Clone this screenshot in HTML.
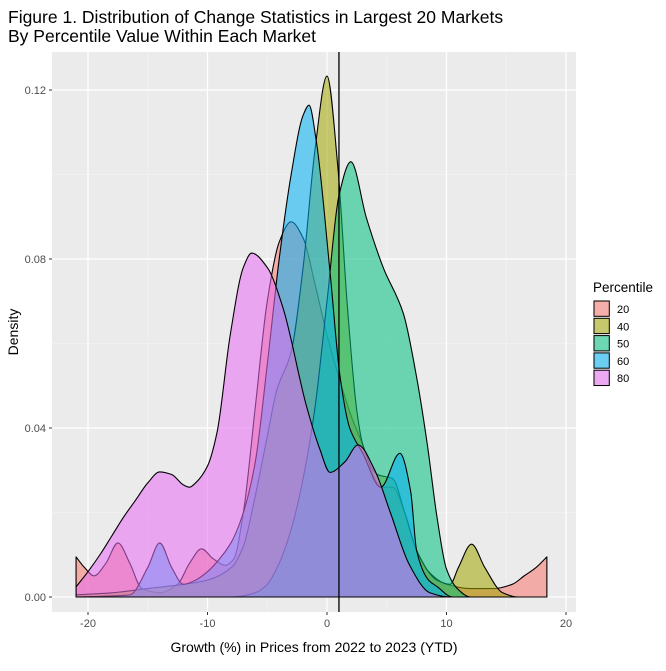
<!DOCTYPE html>
<html><head><meta charset="utf-8"><style>
body{margin:0;background:#fff;}
svg{font-family:"Liberation Sans",Arial,sans-serif;}
</style></head><body>
<svg id="chart" width="666" height="666" viewBox="0 0 666 666">
<text x="8" y="23" font-size="17.5" fill="#000">Figure 1. Distribution of Change Statistics in Largest 20 Markets</text>
<text x="8" y="42" font-size="17.5" fill="#000">By Percentile Value Within Each Market</text>
<rect x="52" y="52" width="524" height="560" fill="#EBEBEB"/>
<g id="grid"></g>
<g id="areas"></g>
<line id="vline" stroke="#000" stroke-width="1.3"/>
<g id="axes" font-size="11" fill="#4D4D4D"></g>
<text x="314" y="652" font-size="14" text-anchor="middle" fill="#000">Growth (%) in Prices from 2022 to 2023 (YTD)</text>
<text x="18" y="332" font-size="14" text-anchor="middle" fill="#000" transform="rotate(-90 18 332)">Density</text>
<g id="legend">
<text x="593" y="292" font-size="13.5" fill="#000">Percentile</text>
</g>
</svg>
<script>
const seriesNames = ["20","40","50","60","80"];
const seriesColors = ["#F8766D","#A3A500","#00BF7D","#00B0F6","#E76BF3"];
const xTicks = [-20,-10,0,10,20];
const yTicks = [0,0.04,0.08,0.12];
const yTickLabels = ["0.00","0.04","0.08","0.12"];
const refLine = 1;
const x20 = [-21,-20.3,-19.5,-18.5,-17.5,-16.5,-15.5,-14,-12.5,-11.5,-10.5,-9.5,-8.5,-7.8,-7,-6,-5,-4,-3,-2,-1,0,1,2,3,4,4.5,5.5,6.5,7.5,8.5,10,12,14,15.5,16.5,17.5,18.4];
const y20 = [0.0095,0.007,0.005,0.008,0.0128,0.008,0.002,0.001,0.003,0.008,0.0114,0.009,0.0075,0.009,0.02,0.045,0.07,0.084,0.0888,0.085,0.074,0.062,0.052,0.043,0.036,0.028,0.026,0.026,0.02,0.011,0.006,0.003,0.002,0.002,0.003,0.005,0.007,0.0095];
const x40 = [-21,-18,-15,-12,-10,-8,-7,-6,-5,-4.2,-3,-2,-1,0,0.9,1.7,2.5,3,4.2,5.5,6.5,7.5,9.2,10.3,11,12.1,13.2,14.7,16,18.4];
const y40 = [0.0005,0.001,0.002,0.003,0.004,0.007,0.012,0.024,0.038,0.049,0.058,0.078,0.106,0.1233,0.102,0.069,0.044,0.036,0.029,0.028,0.02,0.011,0.004,0.003,0.007,0.0125,0.007,0.001,0,0];
const x50 = [-21,-8,-6,-5,-4,-3,-2,-1,0,1,2,3.3,4.7,6.4,7.5,8.4,9.2,10,10.9,12,18.4];
const y50 = [0,0,0.001,0.003,0.008,0.016,0.028,0.045,0.07,0.095,0.103,0.0897,0.078,0.067,0.052,0.036,0.019,0.0066,0.002,0,0];
const x60 = [-21,-16.5,-15,-14,-13,-12,-11,-10,-9,-8,-7,-6,-5,-4,-3,-2,-1.5,-0.9,0.25,1.1,1.9,3,4.5,6.1,7,7.5,8.5,9.2,10.5,18.4];
const y60 = [0,0.0005,0.007,0.0128,0.007,0.003,0.004,0.006,0.009,0.013,0.02,0.032,0.055,0.08,0.1,0.114,0.1164,0.108,0.077,0.052,0.04,0.034,0.026,0.034,0.025,0.011,0.004,0.0025,0,0];
const x80 = [-21,-20,-19,-18,-17,-16,-15,-14,-13,-12,-11.5,-11,-10,-9.2,-8.1,-7,-6.3,-5,-3.7,-1.7,-0.6,0.25,1.5,2.6,4,5.3,6.9,8.6,10.3,12,18.4];
const y80 = [0.0024,0.006,0.010,0.0145,0.019,0.023,0.027,0.0296,0.029,0.0265,0.026,0.027,0.031,0.039,0.062,0.078,0.0814,0.078,0.0686,0.045,0.035,0.0295,0.032,0.036,0.03,0.02,0.0076,0.001,0,0,0];
const allX = [x20,x40,x50,x60,x80];
const allY = [y20,y40,y50,y60,y80];

const X = v => 327 + 11.95 * v;
const Y = d => 597 - d * 4225;
const NS = "http://www.w3.org/2000/svg";
function mk(tag, attrs, parent){ const e=document.createElementNS(NS,tag); for(const k in attrs) e.setAttribute(k,attrs[k]); parent.appendChild(e); return e; }

const grid = document.getElementById('grid');
[-15,-5,5,15].forEach(v=>{ const l=mk('line',{x1:X(v),x2:X(v),y1:52,y2:612,stroke:'#F5F5F5','stroke-width':0.6},grid);

 });
[0.02,0.06,0.10].forEach(v=>{ const l=mk('line',{x1:52,x2:576,y1:Y(v),y2:Y(v),stroke:'#F5F5F5','stroke-width':0.6},grid);

 });
xTicks.forEach(v=>{ const l=mk('line',{x1:X(v),x2:X(v),y1:52,y2:612,stroke:'#fff','stroke-width':1.2},grid);

 });
yTicks.forEach(v=>{ const l=mk('line',{x1:52,x2:576,y1:Y(v),y2:Y(v),stroke:'#fff','stroke-width':1.2},grid);

 });

// monotone cubic Hermite (Fritsch-Carlson) in data space
function smoothPath(xs, ys){
  const n = xs.length;
  const dlt = [], m = new Array(n);
  for(let i=0;i<n-1;i++) dlt.push((ys[i+1]-ys[i])/(xs[i+1]-xs[i]));
  m[0]=dlt[0]; m[n-1]=dlt[n-2];
  for(let i=1;i<n-1;i++){
    if(dlt[i-1]*dlt[i]<=0) m[i]=0;
    else { const h0=xs[i]-xs[i-1], h1=xs[i+1]-xs[i];
      const w1=2*h1+h0, w2=h1+2*h0;
      m[i]=(w1+w2)/(w1/dlt[i-1]+w2/dlt[i]); }
  }
  let d = `M${X(xs[0])},${Y(0)} L${X(xs[0])},${Y(ys[0])}`;
  for(let i=0;i<n-1;i++){
    const h=xs[i+1]-xs[i];
    const c1x=xs[i]+h/3, c1y=ys[i]+m[i]*h/3;
    const c2x=xs[i+1]-h/3, c2y=ys[i+1]-m[i+1]*h/3;
    d += ` C${X(c1x)},${Y(Math.max(0,c1y))} ${X(c2x)},${Y(Math.max(0,c2y))} ${X(xs[i+1])},${Y(ys[i+1])}`;
  }
  d += ` L${X(xs[n-1])},${Y(0)} Z`;
  return d;
}
const areas = document.getElementById('areas');
seriesNames.forEach((n,i)=>{
  const p = mk('path',{d:smoothPath(allX[i],allY[i]),fill:seriesColors[i],'fill-opacity':0.55,stroke:'#000','stroke-width':1.1,'stroke-linejoin':'round'},areas);
  
  
});
const vl = document.getElementById('vline');
vl.setAttribute('x1',X(refLine)); vl.setAttribute('x2',X(refLine));
vl.setAttribute('y1',52); vl.setAttribute('y2',612);

const axes = document.getElementById('axes');
xTicks.forEach(v=>{
  const t=mk('line',{x1:X(v),x2:X(v),y1:612,y2:615,stroke:'#333','stroke-width':1},axes);
  
  
  const l=mk('text',{x:X(v),y:627,'text-anchor':'middle'},axes); l.textContent=v;
  
  
});
yTicks.forEach((v,i)=>{
  const t=mk('line',{x1:49,x2:52,y1:Y(v),y2:Y(v),stroke:'#333','stroke-width':1},axes);
  
  
  const l=mk('text',{x:46,y:Y(v)+4,'text-anchor':'end'},axes); l.textContent=yTickLabels[i];
  
  
});
const legend = document.getElementById('legend');
seriesNames.forEach((n,i)=>{
  const y0 = 300 + i*17.3;
  const bg=mk('rect',{x:593,y:y0,width:17.3,height:17.3,fill:'#F2F2F2'},legend);
  
  
  const r=mk('rect',{x:594,y:y0+1,width:15.3,height:15.3,fill:seriesColors[i],'fill-opacity':0.55,stroke:'#000','stroke-width':1},legend);
  
  
  const t=mk('text',{x:617,y:y0+13,'font-size':11,fill:'#000'},legend); t.textContent=n;
  
  
});
</script>
</body></html>
